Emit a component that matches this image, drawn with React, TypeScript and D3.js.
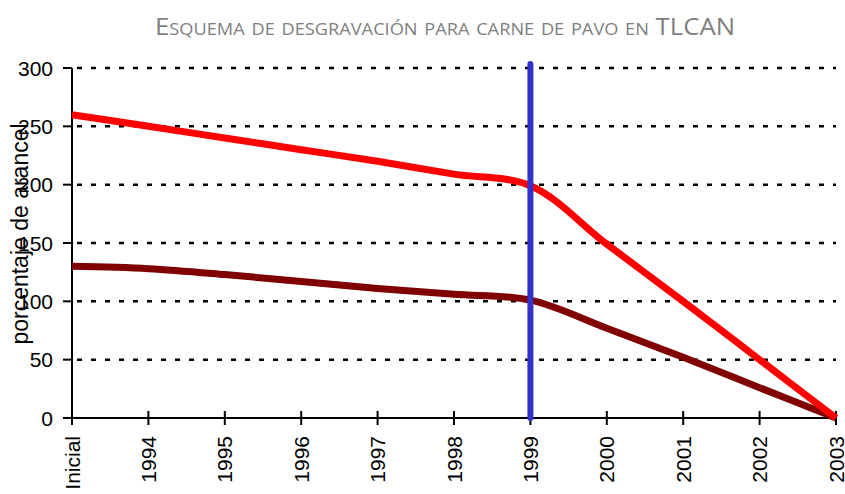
import React from "react";
import * as d3 from "d3";

const categories = ["Inicial", "1994", "1995", "1996", "1997", "1998", "1999", "2000", "2001", "2002", "2003"];
const redSeries = [260, 250, 240, 230, 220, 209, 199, 149, 100, 50, 0];
const darkSeries = [130, 128, 123, 117, 111, 106, 101, 77, 52, 26, 0];
const yTicks = [0, 50, 100, 150, 200, 250, 300];
const markerYear = "1999";

const W = 845;
const H = 494;
const margin = { top: 68, right: 9, bottom: 76, left: 72 };

export default function App() {
  const x = d3
    .scalePoint<string>()
    .domain(categories)
    .range([margin.left, W - margin.right]);
  const y = d3
    .scaleLinear()
    .domain([0, 300])
    .range([H - margin.bottom, margin.top]);

  const line = d3
    .line<number>()
    .x((_, i) => x(categories[i]) as number)
    .y((d) => y(d))
    .curve(d3.curveCatmullRom.alpha(0.5));

  const x0 = margin.left;
  const x1 = W - margin.right;
  const y0 = y(0);
  const mx = x(markerYear) as number;
  const font = "'Liberation Sans', Arial, sans-serif";

  return (
    <svg
      width={W}
      height={H}
      style={{ position: "absolute", left: 0, top: 0, background: "#fff" }}
    >
      <text
        x={445}
        y={35}
        textAnchor="middle"
        fill="#7f7f7f"
        fontFamily="'Open Sans', sans-serif"
        fontSize={24}
        textLength={580}
        lengthAdjust="spacingAndGlyphs"
        style={{ fontVariant: "small-caps" }}
      >
        Esquema de desgravación para carne de pavo en TLCAN
      </text>

      {/* grid */}
      {yTicks
        .filter((t) => t > 0)
        .map((t) => (
          <line
            key={t}
            x1={x0}
            x2={x1}
            y1={y(t)}
            y2={y(t)}
            stroke="#000"
            strokeWidth={2.5}
            strokeDasharray="5,9"
            strokeDashoffset={-5}
          />
        ))}

      {/* y axis */}
      <line x1={x0} x2={x0} y1={y(300)} y2={y0 + 6} stroke="#000" strokeWidth={2} />
      {yTicks.map((t) => (
        <g key={t}>
          <line x1={x0 - 9} x2={x0} y1={y(t)} y2={y(t)} stroke="#000" strokeWidth={2} />
          <text
            x={53}
            y={y(t)}
            dy="0.36em"
            textAnchor="end"
            fontFamily={font}
            fontSize={21}
            fill="#000"
          >
            {t}
          </text>
        </g>
      ))}

      {/* x axis */}
      <line x1={x0 - 9} x2={x1} y1={y0} y2={y0} stroke="#000" strokeWidth={2} />
      {categories.map((c) => {
        const cx = x(c) as number;
        return (
          <g key={c}>
            <line x1={cx} x2={cx} y1={y0 - 7} y2={y0 + 7} stroke="#000" strokeWidth={2} />
            <text
              transform={`translate(${cx},${y0 + 18}) rotate(-90)`}
              dy="0.36em"
              textAnchor="end"
              fontFamily={font}
              fontSize={21}
              fill="#000"
            >
              {c}
            </text>
          </g>
        );
      })}

      {/* series */}
      <path d={line(darkSeries) ?? ""} fill="none" stroke="#800000" strokeWidth={7} />
      <path d={line(redSeries) ?? ""} fill="none" stroke="#ff0000" strokeWidth={7} />

      {/* marker line */}
      <line
        x1={mx}
        x2={mx}
        y1={y(300) - 4}
        y2={y0}
        stroke="#3333cc"
        strokeWidth={6}
        strokeLinecap="round"
      />

      <text
        transform={`translate(20,${234}) rotate(-90)`}
        dy="0.36em"
        textAnchor="middle"
        fontFamily={font}
        fontSize={23}
        fill="#000"
      >
        porcentaje de arancel
      </text>
    </svg>
  );
}
